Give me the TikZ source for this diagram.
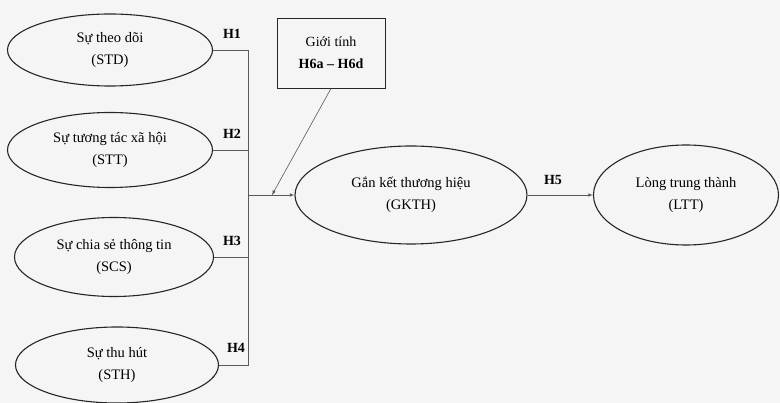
\documentclass[tikz,border=0pt]{standalone}
\usepackage{fontspec}
\setmainfont{Liberation Serif}
\usetikzlibrary{calc,shapes,arrows}

\begin{document}
\begin{tikzpicture}[x=1pt,y=-1pt,
    factor/.style={ellipse,draw=black!85,line width=1.1pt,inner sep=0pt,align=center,font=\fontsize{14.5}{22}\selectfont},
    path/.style={draw=black!65,line width=0.6pt},
    hyp/.style={font=\fontsize{14}{16}\selectfont\bfseries}]
    \useasboundingbox[fill=black!4] (0,0) rectangle (780,403);
    \node[factor,minimum width=205,minimum height=72] (std) at (110,50) {Sự theo dõi\\(STD)};
    \node[factor,minimum width=205,minimum height=75] (stt) at (110,150) {Sự tương tác xã hội\\(STT)};
    \node[factor,minimum width=199,minimum height=79] (scs) at (114,257) {Sự chia sẻ thông tin\\(SCS)};
    \node[factor,minimum width=203,minimum height=76] (sth) at (117,365) {Sự thu hút\\(STH)};
    \node[factor,minimum width=232,minimum height=98] (gkth) at (411,195) {Gắn kết thương hiệu\\(GKTH)};
    \node[factor,minimum width=185,minimum height=100] (ltt) at (686,195) {Lòng trung thành\\(LTT)};
    \node[draw=black!85,line width=0.9pt,minimum width=108,minimum height=70,align=center,
        font=\fontsize{14}{22}\selectfont] (gt) at (331,53) {Giới tính\\\textbf{H6a -- H6d}};
    \coordinate (j) at (248,195);
    \coordinate (m) at (272,195);
    \foreach \f in {std,stt,scs,sth}
        \draw[path] (\f.east) -| (j);
    \draw[path,-latex] (j) -- (gkth.west);
    \draw[path,-latex] (gt.south) -- (m);
    \draw[path,-latex] (gkth.east) -- (ltt.west);
    \node[hyp] (h1) at (232,34) {H1};
    \node[hyp] (h2) at (232,134) {H2};
    \node[hyp] (h3) at (232,241) {H3};
    \node[hyp] (h4) at (236,348) {H4};
    \node[hyp] (h5) at (553,180) {H5};
\end{tikzpicture}
\end{document}
